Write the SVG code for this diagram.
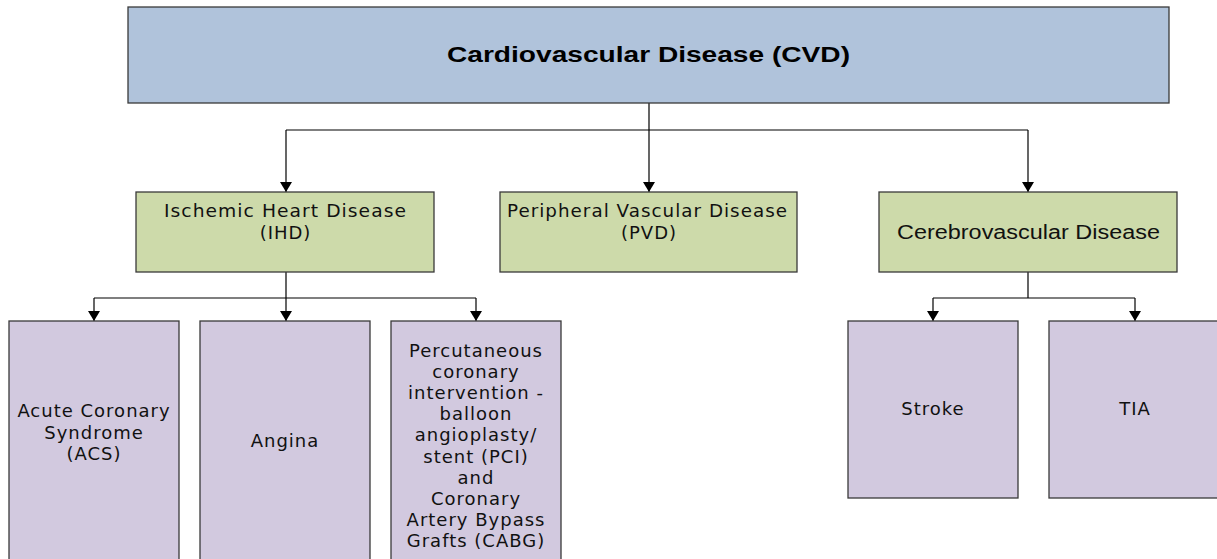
<svg xmlns="http://www.w3.org/2000/svg" width="1217" height="559" viewBox="0 0 1217 559">
<defs>
<marker id="arr" markerUnits="userSpaceOnUse" markerWidth="10" markerHeight="12" viewBox="0 0 10 12" refX="10" refY="6" orient="auto">
<path d="M0,0 L10,6 L0,12 z" fill="#000"/>
</marker>
<style>
.box{stroke:#3a3a3a;stroke-width:1.3}
.top{fill:#B0C3DB}
.mid{fill:#CDDAAA}
.leaf{fill:#D2C9DF}
.t{font-family:"DejaVu Sans","Verdana",sans-serif;font-size:18px;letter-spacing:1px;fill:#111;text-anchor:middle}
.a{font-family:"Liberation Sans",Arial,sans-serif;font-size:20px;fill:#111;text-anchor:middle}
.title{font-family:"Liberation Sans",Arial,sans-serif;font-size:22px;font-weight:bold;fill:#000;text-anchor:middle}
.c{stroke:#000;stroke-width:1.2;fill:none}
</style>
</defs>
<rect width="1217" height="559" fill="#fff"/>
<g id="connectors">
<path class="c" d="M649,103 V130 M286,130 H1028"/>
<path class="c" d="M286,130 V192" marker-end="url(#arr)"/>
<path class="c" d="M649,130 V192" marker-end="url(#arr)"/>
<path class="c" d="M1028,130 V192" marker-end="url(#arr)"/>
<path class="c" d="M286,272 V298 M94,298 H476"/>
<path class="c" d="M94,298 V321" marker-end="url(#arr)"/>
<path class="c" d="M286,298 V321" marker-end="url(#arr)"/>
<path class="c" d="M476,298 V321" marker-end="url(#arr)"/>
<path class="c" d="M1028,272 V298 M933,298 H1135"/>
<path class="c" d="M933,298 V321" marker-end="url(#arr)"/>
<path class="c" d="M1135,298 V321" marker-end="url(#arr)"/>
</g>
<g id="cvd">
<rect class="box top" x="128" y="7" width="1041" height="96"/>
<text class="title" x="648.5" y="62" textLength="403" lengthAdjust="spacingAndGlyphs">Cardiovascular Disease (CVD)</text>
</g>
<g id="ihd">
<rect class="box mid" x="136" y="192" width="298" height="80"/>
<text class="t" x="285.5" y="217" textLength="243" lengthAdjust="spacingAndGlyphs">Ischemic Heart Disease</text>
<text class="t" x="285.5" y="239">(IHD)</text>
</g>
<g id="pvd">
<rect class="box mid" x="500" y="192" width="297" height="80"/>
<text class="t" x="647.5" y="217" textLength="281" lengthAdjust="spacingAndGlyphs">Peripheral Vascular Disease</text>
<text class="t" x="649" y="239">(PVD)</text>
</g>
<g id="cerebro">
<rect class="box mid" x="879" y="192" width="298" height="80"/>
<text class="a" x="1028.5" y="239" textLength="263" lengthAdjust="spacingAndGlyphs">Cerebrovascular Disease</text>
</g>
<g id="acs">
<rect class="box leaf" x="9" y="321" width="170" height="250"/>
<text class="t" x="94" y="417">Acute Coronary</text>
<text class="t" x="94" y="438.5">Syndrome</text>
<text class="t" x="94" y="460">(ACS)</text>
</g>
<g id="angina">
<rect class="box leaf" x="200" y="321" width="170" height="250"/>
<text class="t" x="285" y="447">Angina</text>
</g>
<g id="pci">
<rect class="box leaf" x="391" y="321" width="170" height="250"/>
<text class="t" x="476" y="357">Percutaneous</text>
<text class="t" x="476" y="378.1">coronary</text>
<text class="t" x="476" y="399.2">intervention -</text>
<text class="t" x="476" y="420.3">balloon</text>
<text class="t" x="476" y="441.4">angioplasty/</text>
<text class="t" x="476" y="462.5">stent (PCI)</text>
<text class="t" x="476" y="483.6">and</text>
<text class="t" x="476" y="504.7">Coronary</text>
<text class="t" x="476" y="525.8">Artery Bypass</text>
<text class="t" x="476" y="546.9">Grafts (CABG)</text>
</g>
<g id="stroke">
<rect class="box leaf" x="848" y="321" width="170" height="177"/>
<text class="t" x="933" y="415">Stroke</text>
</g>
<g id="tia">
<rect class="box leaf" x="1049" y="321" width="172" height="177"/>
<text class="t" x="1135" y="415">TIA</text>
</g>
</svg>
